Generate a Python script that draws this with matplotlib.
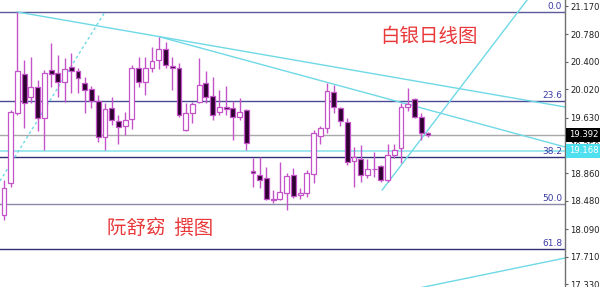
import matplotlib
matplotlib.use("Agg")
import matplotlib.pyplot as plt
import matplotlib.transforms as mtransforms
import numpy as np

# Daily silver candles (open, high, low, close)
opens = [18.283, 18.725, 19.692, 20.231, 19.913, 20.051, 19.623, 20.286, 20.245, 20.120,
         20.328, 20.272, 20.107, 20.024, 19.858, 19.361, 19.761, 19.582, 19.513, 19.609,
         20.314, 20.120, 20.314, 20.424, 20.576, 20.341, 20.314, 19.457, 19.692, 19.844,
         20.107, 19.927, 19.706, 19.775, 19.761, 19.637, 19.734, 18.891, 18.836, 18.795,
         18.504, 18.504, 18.587, 18.836, 18.560, 18.587, 18.850, 19.375, 19.485, 19.982,
         19.761, 19.568, 19.029, 19.057, 18.836, 18.919, 18.960, 18.767, 19.112, 19.209,
         19.775, 19.886, 19.637, 19.410]
highs = [18.767, 19.734, 21.087, 20.424, 20.466, 20.148, 20.286, 20.659, 20.493, 20.452,
         20.521, 20.314, 20.189, 20.065, 19.941, 19.830, 19.913, 19.665, 19.706, 20.355,
         20.466, 20.466, 20.604, 20.742, 20.673, 20.466, 20.383, 19.830, 19.844, 20.452,
         20.272, 20.189, 20.010, 20.065, 19.858, 19.899, 19.747, 19.071, 19.085, 18.946,
         18.629, 19.015, 18.864, 18.933, 18.656, 18.905, 19.457, 19.513, 20.107, 20.079,
         19.775, 19.623, 19.223, 19.250, 19.057, 19.154, 18.974, 19.264, 19.264, 19.830,
         20.038, 19.899, 19.692, 19.430]
lows = [18.214, 18.670, 19.665, 19.485, 19.830, 19.444, 19.181, 20.051, 19.913, 19.844,
        19.968, 19.968, 19.692, 19.761, 19.292, 19.181, 19.526, 19.264, 19.388, 19.471,
        20.051, 19.941, 20.259, 20.300, 20.314, 20.010, 19.637, 19.444, 19.554, 19.830,
        19.830, 19.596, 19.665, 19.665, 19.319, 19.596, 19.181, 18.670, 18.656, 18.491,
        18.449, 18.491, 18.352, 18.518, 18.504, 18.532, 18.725, 19.264, 19.416, 19.692,
        19.513, 18.974, 18.670, 18.739, 18.795, 18.808, 18.739, 18.739, 19.071, 19.002,
        19.720, 19.623, 19.319, 19.361]
closes = [18.656, 19.706, 20.272, 19.830, 20.051, 19.623, 20.245, 20.231, 20.120, 20.300,
          20.272, 20.176, 20.010, 19.858, 19.361, 19.747, 19.596, 19.499, 19.596, 20.314,
          20.120, 20.314, 20.410, 20.576, 20.355, 20.314, 19.665, 19.692, 19.817, 20.079,
          19.913, 19.665, 19.775, 19.747, 19.637, 19.706, 19.278, 18.864, 18.767, 18.504,
          18.491, 18.601, 18.822, 18.546, 18.587, 18.864, 19.416, 19.485, 19.996, 19.775,
          19.582, 19.015, 19.085, 18.836, 18.919, 18.912, 18.767, 19.112, 19.181, 19.775,
          19.817, 19.637, 19.416, 19.392]

# Fibonacci retracement levels and their labels
fib_levels = [21.087, 19.858, 19.085, 18.435, 17.814]
fib_labels = ["0.0", "23.6", "38.2", "50.0", "61.8"]
fib_colors = ["#5a5a9c", "#4a4a96", "#303078", "#8a8aa8", "#303078"]

# Right-axis price ticks
price_ticks = [21.170, 20.780, 20.400, 20.020, 19.630, 19.250, 18.860, 18.480, 18.090, 17.710, 17.330]

last_price = 19.392
support_price = 19.168

# Trend lines as (bar index, price) endpoints
trend_upper = [(2.0, 21.087), (83.4, 19.775)]
trend_lower = [(23.2, 20.742), (83.4, 19.222)]
trend_rising = [(56.2, 18.629), (79.0, 21.408)]
trend_dashed = [(-0.6, 18.753), (14.9, 21.073)]
trend_bottom = [(58.8, 17.220), (83.4, 17.690)]

title_text = "白银日线图"
author_text = "阮舒窈  撰图"

wick_color = "#c452c8"
bear_fill = "#2e0030"
cyan = "#6fd9e6"

fig = plt.figure(figsize=(6.0, 2.87), dpi=100)
ax = fig.add_axes([0, 0, 565 / 600, 1])
ax.set_xlim(-0.594, 83.36)
ax.set_ylim(17.289, 21.253)

for name in ["left", "top", "bottom"]:
    ax.spines[name].set_visible(False)
ax.spines["right"].set_color("#707070")
ax.spines["right"].set_linewidth(1.0)
ax.set_xticks([])
ax.yaxis.tick_right()
ax.set_yticks(price_ticks)
ax.set_yticklabels([f"{t:.3f}" for t in price_ticks])
ax.tick_params(axis="y", direction="out", length=2.5, width=0.8, color="#606060",
               labelsize=6.1, labelcolor="#202020", pad=1.5)

# Horizontal reference lines
for lvl, lab, col in zip(fib_levels, fib_labels, fib_colors):
    ax.axhline(lvl, color=col, lw=1.0, zorder=1)
    ax.annotate(lab, xy=(1.0, lvl), xycoords=("axes fraction", "data"),
                xytext=(-2, 1), textcoords="offset points", ha="right", va="bottom",
                fontsize=6.5, color="#3a3aa6", zorder=4)
ax.axhline(last_price, color="#a8a8a8", lw=1.0, zorder=1)
ax.axhline(support_price, color="#8fe3ee", lw=1.2, zorder=1)

# Trend lines
for seg, ls in [(trend_upper, "-"), (trend_lower, "-"), (trend_rising, "-"),
                (trend_bottom, "-"), (trend_dashed, (0, (2, 2)))]:
    xs, ys = zip(*seg)
    ax.plot(xs, ys, color=cyan, lw=1.0, ls=ls, zorder=2)

# Candlesticks
idx = np.arange(len(opens))
o = np.array(opens)
c = np.array(closes)
ax.vlines(idx, lows, highs, color=wick_color, lw=1.0, zorder=3)
bottoms = np.minimum(o, c)
heights = np.maximum(np.abs(c - o), 0.012)
fills = np.where(c >= o, "white", bear_fill)
ax.bar(idx, heights, bottom=bottoms, width=0.72, color=fills, edgecolor=wick_color,
       linewidth=0.9, zorder=3.5)

# Highlighted price boxes on the axis
trans = mtransforms.blended_transform_factory(ax.transAxes, ax.transData)
ax.text(1.0 + 4 / 565, last_price, f"{last_price:.3f}", transform=trans, ha="left",
        va="center", fontsize=6.1, color="white", clip_on=False, zorder=6,
        bbox=dict(boxstyle="square,pad=0.3", fc="black", ec="none"))
ax.text(1.0 + 4 / 565, support_price, f"{support_price:.3f}", transform=trans, ha="left",
        va="center", fontsize=6.1, color="white", clip_on=False, zorder=6,
        bbox=dict(boxstyle="square,pad=0.3", fc="#4fe0f0", ec="none"))

# Titles
fig.text(380 / 600, 1 - 36 / 287, title_text, ha="left", va="center", fontsize=14,
         color="#e8383a", family=["Noto Sans CJK SC", "DejaVu Sans"], fontweight="light")
fig.text(107 / 600, 1 - 228 / 287, author_text, ha="left", va="center", fontsize=14,
         color="#e8383a", family=["Noto Sans CJK SC", "DejaVu Sans"], fontweight="light")

fig.savefig("out.png", dpi=100, facecolor="white")
